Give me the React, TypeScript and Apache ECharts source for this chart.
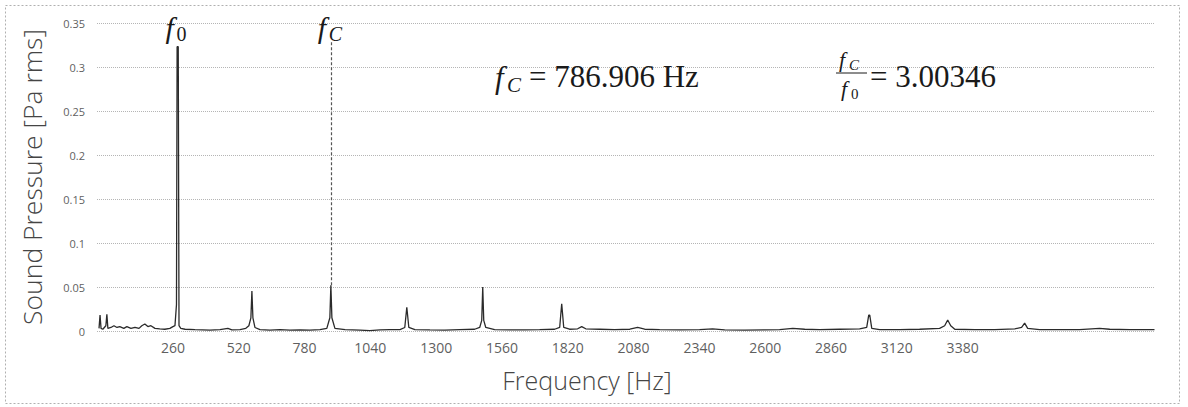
import React, { useEffect, useRef } from "react";
import * as echarts from "echarts";

// Spectrum, in the chart's own x-axis units
const freqHz = [
  -32, -28, -24, -17, -11, -5, -1, 3, 15, 27, 39, 50, 66, 78, 94, 110, 126, 137, 149, 161, 173, 189, 208, 228, 248, 260, 268,
  274, 276.5, 281, 284, 291, 308, 347, 406, 446, 477, 493, 525, 548, 560, 568, 572, 576, 584, 604, 643, 683, 722, 762, 801,
  841, 868, 880, 884, 888, 900, 940, 999, 1038, 1078, 1117, 1157, 1176, 1184, 1192, 1216, 1275, 1334, 1393, 1452, 1472,
  1480, 1484, 1488, 1496, 1531, 1591, 1650, 1709, 1768, 1788, 1796, 1804, 1827, 1859, 1875, 1891, 1946, 2005, 2065, 2096,
  2124, 2183, 2262, 2341, 2392, 2440, 2519, 2598, 2657, 2709, 2756, 2815, 2894, 2973, 3001, 3009, 3013, 3021, 3052, 3131,
  3210, 3289, 3309, 3321, 3333, 3349, 3428, 3507, 3586, 3613, 3625, 3637, 3684, 3763, 3842, 3921, 3961, 4040, 4138,
];
const amplitude = [
  0.003, 0.018, 0.003, 0.002, 0.004, 0.006, 0.019, 0.003, 0.004, 0.006, 0.004, 0.005, 0.003, 0.005, 0.003, 0.004, 0.003,
  0.006, 0.008, 0.005, 0.006, 0.003, 0.0025, 0.002, 0.003, 0.005, 0.006,
  0.03, 0.323, 0.323, 0.006, 0.003, 0.002, 0.0015, 0.001, 0.0015, 0.003, 0.0012, 0.0015, 0.003, 0.006, 0.015, 0.0455,
  0.015, 0.004, 0.0015, 0.001, 0.0015, 0.001, 0.0012, 0.001,
  0.0015, 0.003, 0.015, 0.052, 0.015, 0.003, 0.0015, 0.001, 0.0005, 0.0012, 0.0015, 0.0015, 0.004, 0.027, 0.004, 0.0015,
  0.0012, 0.001, 0.0015, 0.002, 0.004,
  0.012, 0.05, 0.012, 0.004, 0.0015, 0.0012, 0.0012, 0.0015, 0.002, 0.004, 0.031, 0.004, 0.002, 0.0025, 0.005, 0.0025,
  0.002, 0.0015, 0.002, 0.004,
  0.002, 0.0015, 0.0012, 0.0015, 0.0025, 0.0012, 0.001, 0.0012, 0.0015, 0.003, 0.002, 0.0015, 0.002, 0.0025, 0.004, 0.018,
  0.018, 0.003, 0.0015, 0.0015,
  0.002, 0.003, 0.006, 0.0125, 0.006, 0.002, 0.0015, 0.0015, 0.0025, 0.004, 0.009, 0.003, 0.0015, 0.0015, 0.0015, 0.003,
  0.002, 0.0015, 0.0015,
];
const xTickLabels = [260, 520, 780, 1040, 1300, 1560, 1820, 2080, 2340, 2600, 2860, 3120, 3380];
const f0PeakHz = 278.5;
const fcPeakHz = 884;
const fcPeakAmp = 0.052;
const fcLineTopAmp = 0.328;
const fcText = "= 786.906 Hz";
const ratioText = "= 3.00346";

const mathFont = '"Liberation Serif", "DejaVu Serif", serif';
const uiFont = '"Open Sans", "Noto Sans", sans-serif';

export default function App() {
  const ref = useRef<HTMLDivElement>(null);
  useEffect(() => {
    document.body.style.margin = "0";
    const chart = echarts.init(ref.current!, null, { renderer: "svg" });
    const data = freqHz.map((f, i) => [f, amplitude[i]]);
    chart.setOption({
      animation: false,
      backgroundColor: "#ffffff",
      grid: { left: 97, right: 33, top: 23, bottom: 76, containLabel: false },
      xAxis: {
        type: "value",
        min: -40,
        max: 4140,
        axisLine: { show: false },
        axisTick: { show: false },
        splitLine: { show: false },
        axisLabel: {
          customValues: xTickLabels,
          formatter: (v: number) => String(v),
          fontSize: 14,
          color: "#5f5f5f",
          fontFamily: uiFont,
          margin: 9,
        },
      },
      yAxis: {
        type: "value",
        min: 0,
        max: 0.35,
        interval: 0.05,
        axisLine: { show: false },
        axisTick: { show: false },
        axisLabel: { fontSize: 11, color: "#5f5f5f", fontFamily: uiFont, margin: 12 },
        splitLine: { show: true, lineStyle: { type: "dotted", color: "#b5b5b5", width: 1 } },
      },
      series: [
        {
          type: "line",
          data,
          showSymbol: false,
          lineStyle: { color: "#2b2b2b", width: 1.3 },
          markLine: {
            silent: true,
            symbol: "none",
            label: { show: false },
            lineStyle: { type: [3, 2], color: "#555", width: 1.2 },
            data: [[{ coord: [fcPeakHz, fcPeakAmp] }, { coord: [fcPeakHz, fcLineTopAmp] }]],
          },
        },
      ],
    });

    const f0x = chart.convertToPixel({ gridIndex: 0 }, [f0PeakHz, 0])[0];
    const fcx = chart.convertToPixel({ gridIndex: 0 }, [fcPeakHz, 0])[0];

    const t = (x: number, y: number, text: string, size: number, italic: boolean, extra: any = {}) => ({
      type: "text",
      x,
      y,
      style: {
        text,
        fontSize: size,
        fontFamily: extra.fontFamily || mathFont,
        fontStyle: italic ? "italic" : "normal",
        fontWeight: extra.fontWeight || "normal",
        fill: extra.fill || "#1a1a1a",
        verticalAlign: extra.verticalAlign || "middle",
        align: extra.align || "left",
      },
    });

    chart.setOption({
      graphic: [
        {
          type: "rect",
          shape: { x: 5.5, y: 5.5, width: 1174, height: 398 },
          style: { fill: "none", stroke: "#b0b0b0", lineWidth: 1, lineDash: [2, 2] },
        },
        // f0 label
        t(f0x - 12, 27, "f", 30, true),
        t(f0x - 1, 34, "0", 20, false),
        // fc label
        t(fcx - 13, 27, "f", 30, true),
        t(fcx - 2, 34, "C", 20, true),
        // fc = 786.906 Hz
        t(495, 77, "f", 31, true),
        t(507, 85, "C", 21, true),
        t(529, 76, fcText, 31, false),
        // fc / f0 = 3.00346
        t(839, 59, "f", 22, true),
        t(849, 65, "C", 15, true),
        {
          type: "line",
          shape: { x1: 836, y1: 73, x2: 867, y2: 73 },
          style: { stroke: "#1a1a1a", lineWidth: 1 },
        },
        t(841, 88, "f", 22, true),
        t(851, 94, "0", 15, false),
        t(870, 76, ratioText, 31, false),
        // axis titles
        t(587, 380, "Frequency [Hz]", 25, false, { fontFamily: uiFont, fill: "#454545", align: "center", fontWeight: 300 }),
        {
          type: "text",
          x: 32,
          y: 177,
          rotation: Math.PI / 2,
          style: {
            text: "Sound Pressure [Pa rms]",
            fontSize: 26.5,
            fontFamily: uiFont,
            fontWeight: 300,
            fill: "#454545",
            align: "center",
            verticalAlign: "middle",
          },
        },
      ],
    });
    return () => chart.dispose();
  }, []);
  return <div ref={ref} style={{ width: 1188, height: 407 }} />;
}
